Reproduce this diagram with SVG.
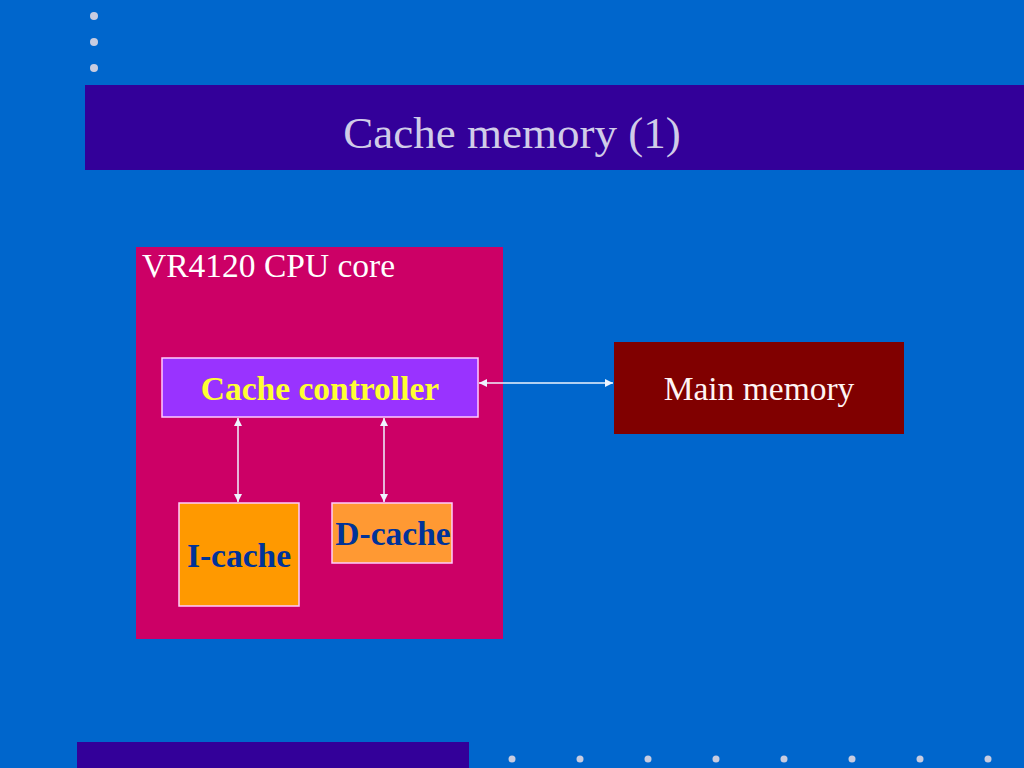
<svg xmlns="http://www.w3.org/2000/svg" width="1024" height="768" viewBox="0 0 1024 768">
<style>
.dot{fill:#c8cce0}
.bar{fill:#330099}
.box{stroke:#ffccff;stroke-width:1.5}
.tnorm{font-family:"Liberation Serif","Times New Roman",serif}
.tbold{font-family:"Liberation Serif","Times New Roman",serif;font-weight:bold;font-size:33.5px;text-anchor:middle}
.conn{stroke:#eef4ff;stroke-width:1.5;fill:none;marker-start:url(#ah);marker-end:url(#ah)}
</style>
<defs>
<marker id="ah" viewBox="0 0 10 10" refX="10" refY="5" markerWidth="8" markerHeight="8" markerUnits="userSpaceOnUse" orient="auto-start-reverse">
<path d="M0,0 L10,5 L0,10 z" fill="#eef4ff"/>
</marker>
</defs>
<rect width="1024" height="768" fill="#0066cc"/>
<g id="decor">
<circle class="dot" cx="94" cy="16" r="4"/>
<circle class="dot" cx="94" cy="42" r="4"/>
<circle class="dot" cx="94" cy="68" r="4"/>
<rect class="bar" x="85" y="85" width="939" height="85"/>
<rect class="bar" x="77" y="742" width="392" height="26"/>
<circle class="dot" cx="512" cy="759" r="3.5"/>
<circle class="dot" cx="580" cy="759" r="3.5"/>
<circle class="dot" cx="648" cy="759" r="3.5"/>
<circle class="dot" cx="716" cy="759" r="3.5"/>
<circle class="dot" cx="784" cy="759" r="3.5"/>
<circle class="dot" cx="852" cy="759" r="3.5"/>
<circle class="dot" cx="920" cy="759" r="3.5"/>
<circle class="dot" cx="988" cy="759" r="3.5"/>
</g>
<g id="title">
<text class="tnorm" x="512" y="148" font-size="45" fill="#d0cce8" text-anchor="middle">Cache memory (1)</text>
</g>
<g id="cpu-core">
<rect x="136" y="247" width="367" height="392" fill="#cc0066"/>
<text class="tnorm" x="142" y="277" font-size="33.5" fill="#ffffff">VR4120 CPU core</text>
</g>
<g id="cache-controller">
<rect class="box" x="162" y="358" width="316" height="59" fill="#9933ff"/>
<text class="tbold" x="320" y="400" fill="#ffff33">Cache controller</text>
</g>
<g id="i-cache">
<rect class="box" x="179" y="503" width="120" height="103" fill="#ff9900"/>
<text class="tbold" x="239" y="567" fill="#003399">I-cache</text>
</g>
<g id="d-cache">
<rect class="box" x="332" y="503" width="120" height="60" fill="#ff9933"/>
<text class="tbold" x="393" y="545" fill="#003399">D-cache</text>
</g>
<g id="main-memory">
<rect x="614" y="342" width="290" height="92" fill="#800000"/>
<text class="tnorm" x="759" y="400" font-size="33.5" fill="#fff4f4" text-anchor="middle">Main memory</text>
</g>
<g id="connectors">
<line class="conn" x1="479" y1="383" x2="613" y2="383"/>
<line class="conn" x1="238" y1="418" x2="238" y2="502"/>
<line class="conn" x1="384" y1="418" x2="384" y2="502"/>
</g>
</svg>
